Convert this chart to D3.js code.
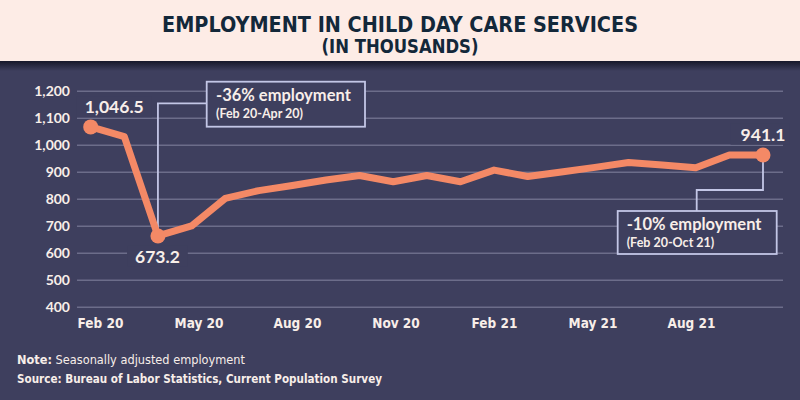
<!DOCTYPE html>
<html>
<head>
<meta charset="utf-8">
<script src="https://cdn.jsdelivr.net/npm/d3@7/dist/d3.min.js"></script>
<style>
  html, body { margin: 0; padding: 0; background: #3e3f5e; }
  svg { display: block; }
</style>
</head>
<body>
<svg id="chart" width="800" height="400"></svg>
<script>
// ---- data ----
const months = ["Feb 20","Mar 20","Apr 20","May 20","Jun 20","Jul 20","Aug 20","Sep 20","Oct 20","Nov 20","Dec 20",
                "Jan 21","Feb 21","Mar 21","Apr 21","May 21","Jun 21","Jul 21","Aug 21","Sep 21","Oct 21"];
const employment = [1066, 1030, 662, 699, 801, 830, 849, 869, 886, 863, 886,
                     863, 906, 882, 899, 916, 934, 925, 915, 962, 962];
const xTickLabels = ["Feb 20","May 20","Aug 20","Nov 20","Feb 21","May 21","Aug 21"];
const yTicks = [400, 500, 600, 700, 800, 900, 1000, 1100, 1200];
const valueLabels = [
  {month: "Feb 20", text: "1,046.5"},
  {month: "Apr 20", text: "673.2"},
  {month: "Oct 21", text: "941.1"}
];
const notes = {
  title: "EMPLOYMENT IN CHILD DAY CARE SERVICES",
  subtitle: "(IN THOUSANDS)",
  ann1: ["-36% employment", "(Feb 20-Apr 20)"],
  ann2: ["-10% employment", "(Feb 20-Oct 21)"],
  noteLabel: "Note:", note: " Seasonally adjusted employment",
  source: "Source: Bureau of Labor Statistics, Current Population Survey"
};

// ---- styles ----
const BG = "#3e3f5e", HEADER = "#fdece6", LINE = "#f48966", GRID = "#6c6d8a",
      TXT = "#f8eee9", BOX = "#c3c6e6", TITLE = "#13283a";
const NARROW = "'Liberation Sans Narrow', 'DejaVu Sans Condensed', 'Roboto', sans-serif";
const HUM = "Lato, 'Open Sans', sans-serif";

const svg = d3.select("#chart");
const defs = svg.append("defs");
const grad = defs.append("linearGradient").attr("id", "shadow").attr("x1", 0).attr("y1", 0).attr("x2", 0).attr("y2", 1);
grad.append("stop").attr("offset", "0%").attr("stop-color", "#17182a");
grad.append("stop").attr("offset", "100%").attr("stop-color", BG);

svg.append("rect").attr("width", 800).attr("height", 400).attr("fill", BG);
svg.append("rect").attr("x", 0).attr("y", 61).attr("width", 800).attr("height", 10).attr("fill", "url(#shadow)");
svg.append("rect").attr("width", 800).attr("height", 61).attr("fill", HEADER);

svg.append("text").attr("x", 400).attr("y", 31.5).attr("text-anchor", "middle")
  .attr("font-family", NARROW).attr("font-weight", "bold").attr("font-size", 21.5)
  .attr("fill", TITLE).attr("textLength", 476).attr("lengthAdjust", "spacingAndGlyphs")
  .text(notes.title);
svg.append("text").attr("x", 400).attr("y", 53).attr("text-anchor", "middle")
  .attr("font-family", NARROW).attr("font-weight", "bold").attr("font-size", 19)
  .attr("fill", TITLE).attr("textLength", 157).attr("lengthAdjust", "spacingAndGlyphs")
  .text(notes.subtitle);

// ---- scales ----
const x = d3.scalePoint().domain(months).range([90.7, 763]);
const xAxisScale = d3.scalePoint().domain(xTickLabels).range([100, 691]);
const y = d3.scaleLinear().domain([400, 1200]).range([306.7, 90.7]);

// gridlines + y labels
const gridLeft = 77, gridRight = 783;
const yAxis = svg.append("g").attr("transform", `translate(${gridLeft},0)`)
  .call(d3.axisLeft(y).tickValues(yTicks).tickFormat(d3.format(",")).tickSize(-(gridRight - gridLeft)).tickPadding(7));
yAxis.select(".domain").remove();
yAxis.selectAll(".tick line").attr("stroke", GRID).attr("stroke-width", 1.4);
yAxis.selectAll(".tick text").attr("fill", TXT).attr("font-family", HUM).attr("font-weight", "bold")
  .attr("font-size", 14).attr("dy", "0.36em");

// x axis
const xAxis = svg.append("g").attr("transform", "translate(0,0)")
  .call(d3.axisBottom(xAxisScale).tickSize(0));
xAxis.select(".domain").remove();
xAxis.selectAll(".tick text").attr("y", 328).attr("dy", 0).attr("fill", TXT)
  .attr("font-family", NARROW).attr("font-weight", "bold").attr("font-size", 13.5);

// ---- connectors (behind line) ----
const pApr = [x("Apr 20"), y(employment[months.indexOf("Apr 20")])];
const pOct = [x("Oct 21"), y(employment[months.indexOf("Oct 21")])];
svg.append("path").attr("fill", "none").attr("stroke", BOX).attr("stroke-width", 1.8)
  .attr("d", `M${pApr[0]},${pApr[1]} V103.3 H206.7`);
svg.append("path").attr("fill", "none").attr("stroke", BOX).attr("stroke-width", 1.8)
  .attr("d", `M${pOct[0]},${pOct[1]} V190 H696.7 V211`);

// ---- value labels with masks ----
const lblPos = {
  "Feb 20": {dx: 23.5, y: 113.3, padL: 8, padR: 8},
  "Apr 20": {dx: -0.5, y: 262.7, padL: 8, padR: 8},
  "Oct 21": {dx: 0, y: 140.7, padL: 10, padR: 4}
};
valueLabels.forEach(v => {
  const p = lblPos[v.month];
  const t = svg.append("text").attr("x", x(v.month) + p.dx).attr("y", p.y).attr("text-anchor", "middle")
    .attr("font-family", HUM).attr("font-weight", "bold").attr("font-size", 17.5).attr("fill", TXT)
    .text(v.text);
  const bb = t.node().getBBox();
  svg.insert("rect", () => t.node()).attr("x", bb.x - p.padL).attr("y", bb.y).attr("width", bb.width + p.padL + p.padR)
    .attr("height", bb.height).attr("fill", BG);
});

// ---- line ----
const line = d3.line().x((d, i) => x(months[i])).y(d => y(d));
svg.append("path").datum(employment).attr("fill", "none").attr("stroke", LINE)
  .attr("stroke-width", 7).attr("stroke-linejoin", "round").attr("d", line);
svg.selectAll("circle.pt").data(valueLabels).join("circle").attr("class", "pt")
  .attr("cx", d => x(d.month)).attr("cy", d => y(employment[months.indexOf(d.month)]))
  .attr("r", 7.5).attr("fill", LINE);

// ---- annotation boxes ----
function annBox(x0, y0, x1, y1, lines, tx, b1, b2) {
  svg.append("rect").attr("x", x0).attr("y", y0).attr("width", x1 - x0).attr("height", y1 - y0)
    .attr("fill", BG).attr("stroke", BOX).attr("stroke-width", 1.8);
  svg.append("text").attr("x", tx).attr("y", b1).attr("font-family", HUM).attr("font-weight", "bold")
    .attr("font-size", 16.5).attr("fill", TXT).text(lines[0]);
  svg.append("text").attr("x", tx).attr("y", b2).attr("font-family", HUM).attr("font-weight", "bold")
    .attr("font-size", 12.5).attr("fill", TXT).text(lines[1]);
}
annBox(206.7, 81.7, 365, 126.7, notes.ann1, 216, 101, 118);
annBox(617.7, 211, 776.7, 254, notes.ann2, 626.7, 229.5, 246.5);

// ---- footnotes ----
const note = svg.append("text").attr("x", 17).attr("y", 364).attr("font-family", NARROW)
  .attr("font-size", 12.5).attr("fill", TXT).attr("textLength", 228).attr("lengthAdjust", "spacingAndGlyphs");
note.append("tspan").attr("font-weight", "bold").text(notes.noteLabel);
note.append("tspan").text(notes.note);
svg.append("text").attr("x", 17).attr("y", 383).attr("font-family", NARROW).attr("font-weight", "bold")
  .attr("font-size", 12.5).attr("fill", TXT).attr("textLength", 365).attr("lengthAdjust", "spacingAndGlyphs")
  .text(notes.source);
</script>
</body>
</html>
